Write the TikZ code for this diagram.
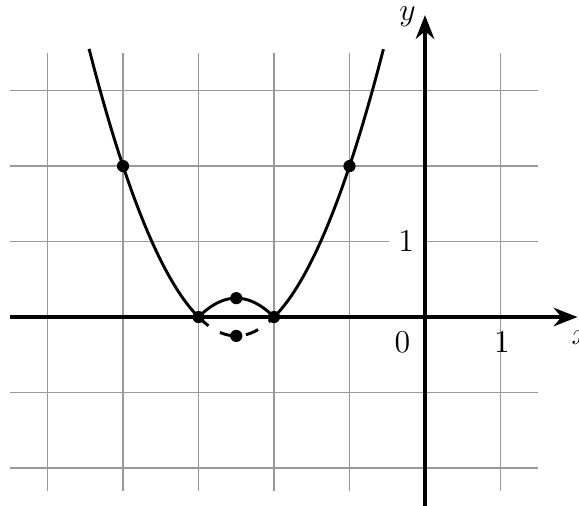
\documentclass[tikz,border=0pt]{standalone}
\usetikzlibrary{arrows.meta}
\begin{document}
\begin{tikzpicture}[
  gridline/.style={gray!80, line width=0.45pt},
  axisline/.style={line width=1.3pt, -{Stealth[length=9pt,width=7pt]}},
  curve/.style={line width=1.1pt},
  dot/.style={circle, fill=black, inner sep=0pt, minimum size=4.6pt},
  lbl/.style={font=\large, inner sep=1pt}
]
\useasboundingbox (-5.63,-2.50) rectangle (2.04,4.20);
\draw[gridline] (-5.5,-2.3) grid (1.5,3.5);
% axes
\coordinate (xs) at (-5.5,0);
\coordinate (xe) at (2.02,0);
\coordinate (ys) at (0,-2.5);
\coordinate (ye) at (0,4.0);
\draw[axisline] (xs) -- (xe);
\draw[axisline] (ys) -- (ye);
\node[lbl, anchor=west] (xl) at (1.90,-0.27) {$x$};
\node[lbl] (yl) at (-0.23,3.98) {$y$};
\node[lbl, fill=white, inner sep=3.5pt] (one_y) at (-0.25,1) {$1$};
\node[lbl] (one_x) at (1.02,-0.34) {$1$};
\node[lbl] (zero) at (-0.30,-0.34) {$0$};
% curve
\draw[curve] plot[domain=-4.45:-3, samples=80] (\x,{(\x+3)*(\x+2)});
\draw[curve] plot[domain=-2:-0.55, samples=80] (\x,{(\x+3)*(\x+2)});
\draw[curve] plot[domain=-3:-2, samples=40] (\x,{-(\x+3)*(\x+2)});
\draw[curve, dashed, dash pattern=on 5pt off 5pt] plot[domain=-3:-2, samples=40] (\x,{(\x+3)*(\x+2)});
% points
\node[dot] (p1) at (-4,2) {};
\node[dot] (p2) at (-1,2) {};
\node[dot] (p3) at (-3,0) {};
\node[dot] (p4) at (-2,0) {};
\node[dot] (p5) at (-2.5,0.25) {};
\node[dot] (p6) at (-2.5,-0.25) {};
\end{tikzpicture}
\end{document}
